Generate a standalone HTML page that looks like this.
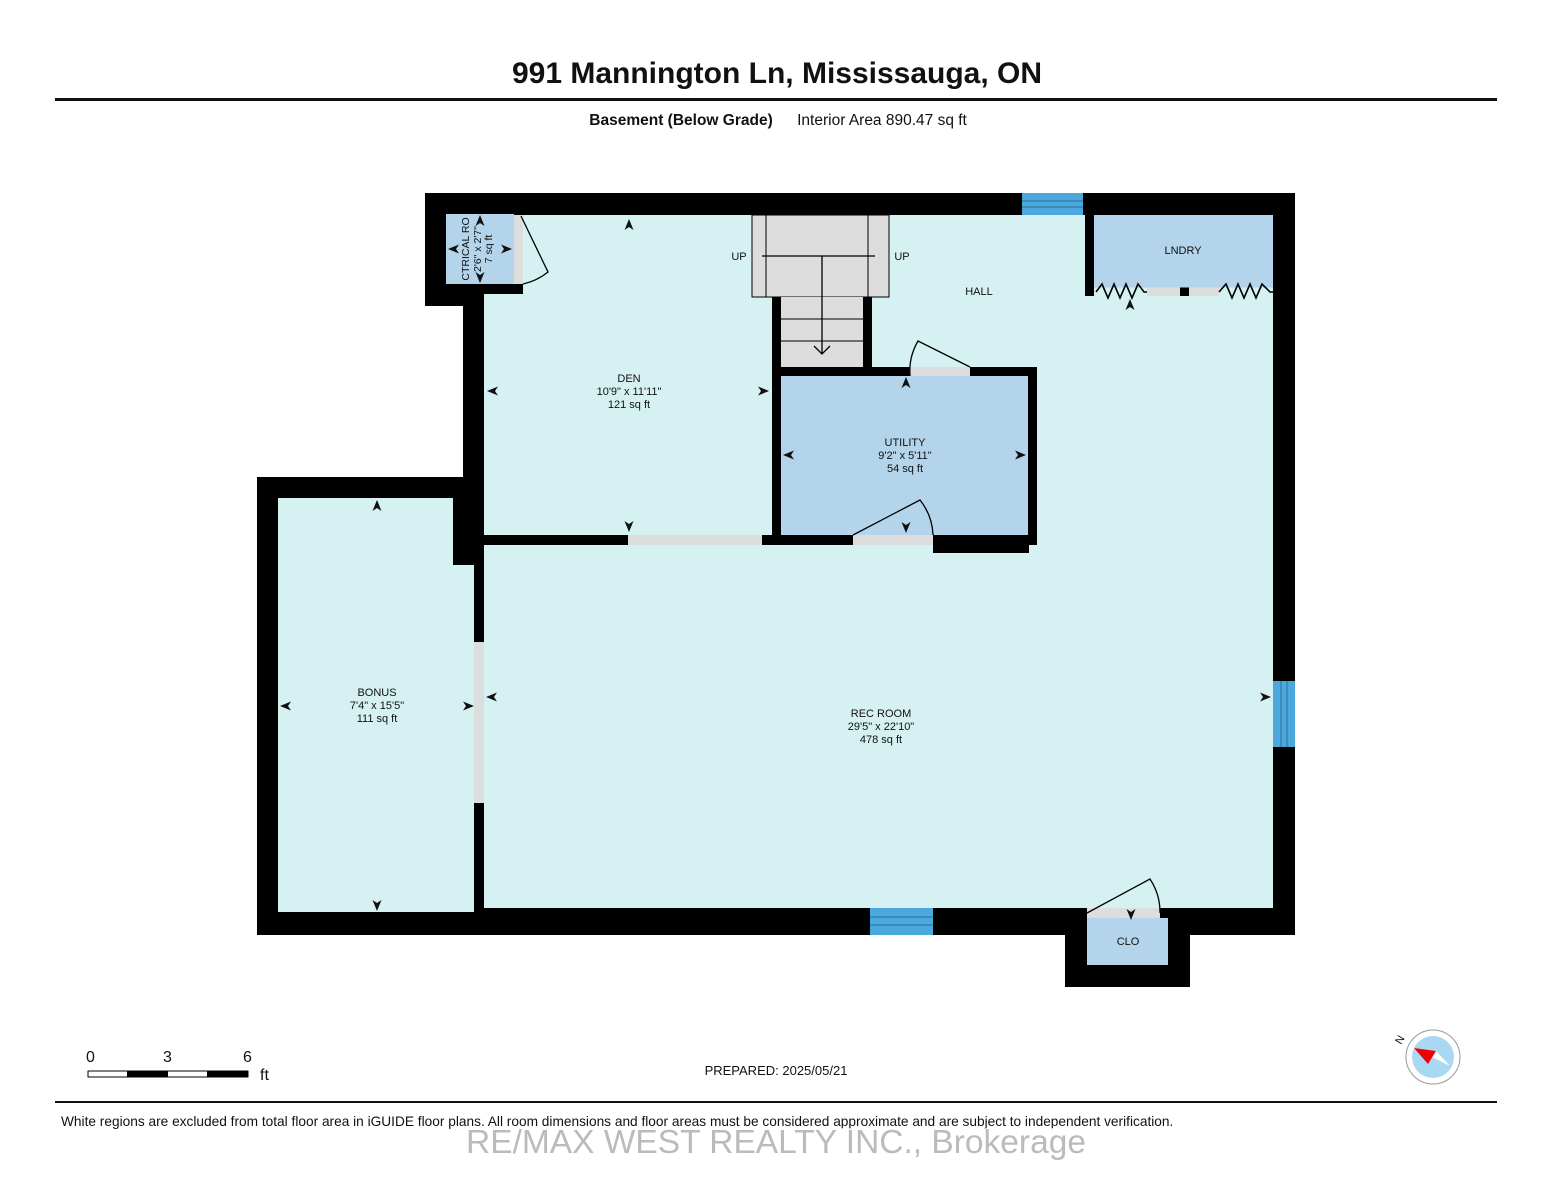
<!DOCTYPE html>
<html><head><meta charset="utf-8"><style>
body{margin:0;background:#fff;width:1552px;height:1200px;overflow:hidden;font-family:"Liberation Sans",Arial,sans-serif}
svg{display:block}
</style></head><body>
<svg width="1552" height="1200" viewBox="0 0 1552 1200" font-family="Liberation Sans, Arial, sans-serif">
<defs>
<path id="au" d="M0 0 L-4.5 11 L0 8 L4.5 11 Z" fill="#111"/>
</defs>
<text x="777" y="83" font-size="30" font-weight="bold" text-anchor="middle" fill="#111">991 Mannington Ln, Mississauga, ON</text>
<rect x="55" y="98" width="1442" height="3" fill="#111"/>
<text x="681" y="125" font-size="15.5" font-weight="bold" text-anchor="middle" fill="#111">Basement (Below Grade)</text>
<text x="882" y="125" font-size="15.5" text-anchor="middle" fill="#111">Interior Area 890.47 sq ft</text>

<polygon points="425,193 1295,193 1295,935 1190,935 1190,987 1065,987 1065,935 257,935 257,477 463,477 463,306 425,306" fill="#000"/>
<rect x="484" y="215" width="789" height="693" fill="#d6f1f1"/>
<rect x="278" y="498" width="196" height="414" fill="#d6f1f1"/>
<!-- electrical room -->
<rect x="446" y="214" width="68" height="70" fill="#b3d4ea"/>
<rect x="514" y="214" width="9" height="70" fill="#ddd"/>
<rect x="484" y="284" width="39" height="10" fill="#000"/>
<rect x="514" y="205" width="9" height="10" fill="#000"/>
<path d="M521 216 L548 272 A60 60 0 0 1 523 284" fill="none" stroke="#000" stroke-width="1.3"/>
<rect x="453" y="477" width="31" height="88" fill="#000"/>
<rect x="474" y="545" width="10" height="367" fill="#000"/>
<rect x="474" y="642" width="10" height="161" fill="#ddd"/>
<rect x="484" y="535" width="288" height="10" fill="#000"/>
<rect x="628" y="535" width="134" height="10" fill="#ddd"/>
<!-- stairs -->
<rect x="752" y="215" width="137" height="82" fill="#ddd" stroke="#000" stroke-width="1"/>
<line x1="766" y1="215" x2="766" y2="297" stroke="#000"/>
<line x1="868" y1="215" x2="868" y2="297" stroke="#000"/>
<rect x="772" y="297" width="100" height="70" fill="#000"/>
<rect x="781" y="297" width="82" height="70" fill="#ddd"/>
<line x1="781" y1="319" x2="863" y2="319" stroke="#000"/>
<line x1="781" y1="341" x2="863" y2="341" stroke="#000"/>
<line x1="762" y1="256" x2="875" y2="256" stroke="#000" stroke-width="1.3"/>
<line x1="822" y1="256" x2="822" y2="354" stroke="#000" stroke-width="1.3"/>
<path d="M814 346 L822 354 L830 346" fill="none" stroke="#000" stroke-width="1.3"/>
<rect x="772" y="297" width="9" height="248" fill="#000"/>
<text x="739" y="260" font-size="11" text-anchor="middle" fill="#111">UP</text>
<text x="902" y="260" font-size="11" text-anchor="middle" fill="#111">UP</text>
<!-- utility -->
<rect x="772" y="367" width="265" height="178" fill="#000"/>
<rect x="781" y="376" width="247" height="159" fill="#b3d4ea"/>
<rect x="910" y="367" width="60" height="9" fill="#ddd"/>
<rect x="853" y="535" width="80" height="10" fill="#ddd"/>
<rect x="933" y="535" width="96" height="18" fill="#000"/>
<path d="M910 376 A60 60 0 0 1 918 341 L970 367" fill="none" stroke="#000" stroke-width="1.3"/>
<path d="M853 535 L920 500 A60 60 0 0 1 933 535" fill="none" stroke="#000" stroke-width="1.3"/>
<!-- laundry -->
<rect x="1085" y="193" width="9" height="103" fill="#000"/>
<rect x="1094" y="215" width="179" height="72" fill="#b3d4ea"/>
<rect x="1094" y="287" width="179" height="9" fill="#d6f1f1"/>
<rect x="1147" y="287" width="33" height="9" fill="#ddd"/>
<rect x="1180" y="287" width="9" height="9" fill="#000"/>
<rect x="1189" y="287" width="30" height="9" fill="#ddd"/>
<line x1="1094" y1="287" x2="1273" y2="287" stroke="#b3d4ea"/>
<polyline points="1096,292 1102,284 1108,298 1114,284 1120,298 1126,284 1132,298 1138,284 1144,292 1147,292" fill="none" stroke="#000" stroke-width="1.6"/>
<polyline points="1219,292 1226,284 1232,298 1238,284 1244,298 1250,284 1256,298 1262,284 1270,292 1273,292" fill="none" stroke="#000" stroke-width="1.6"/>
<!-- windows -->
<rect x="1022" y="193" width="61" height="22" fill="#4aa8dc"/>
<line x1="1022" y1="201" x2="1083" y2="201" stroke="#2a6f9a"/><line x1="1022" y1="207" x2="1083" y2="207" stroke="#2a6f9a"/>
<rect x="1273" y="681" width="22" height="66" fill="#4aa8dc"/>
<line x1="1281" y1="681" x2="1281" y2="747" stroke="#2a6f9a"/><line x1="1287" y1="681" x2="1287" y2="747" stroke="#2a6f9a"/>
<rect x="870" y="908" width="63" height="27" fill="#4aa8dc"/>
<line x1="870" y1="917" x2="933" y2="917" stroke="#2a6f9a"/><line x1="870" y1="925" x2="933" y2="925" stroke="#2a6f9a"/>
<!-- closet -->
<rect x="1087" y="918" width="81" height="47" fill="#b3d4ea"/>
<rect x="1087" y="908" width="73" height="10" fill="#ddd"/>
<path d="M1087 913 L1150 879 A60 60 0 0 1 1160 913" fill="none" stroke="#000" stroke-width="1.3"/>
<g font-size="11" fill="#111" text-anchor="middle">
<text x="629" y="382">DEN</text><text x="629" y="395">10'9" x 11'11"</text><text x="629" y="408">121 sq ft</text>
<text x="905" y="446">UTILITY</text><text x="905" y="459">9'2" x 5'11"</text><text x="905" y="472">54 sq ft</text>
<text x="377" y="696">BONUS</text><text x="377" y="709">7'4" x 15'5"</text><text x="377" y="722">111 sq ft</text>
<text x="881" y="717">REC ROOM</text><text x="881" y="730">29'5" x 22'10"</text><text x="881" y="743">478 sq ft</text>
<text x="979" y="295">HALL</text>
<text x="1183" y="254">LNDRY</text>
<text x="1128" y="945">CLO</text>
<g transform="translate(480,249) rotate(-90)" font-size="10.5"><text x="0" y="-11">CTRICAL RO</text><text x="0" y="1">2'6" x 2'7"</text><text x="0" y="12">7 sq ft</text></g>
</g>
<use href="#au" transform="translate(629,219)"/>
<use href="#au" transform="translate(629,532) rotate(180)"/>
<use href="#au" transform="translate(487,391) rotate(-90)"/>
<use href="#au" transform="translate(769,391) rotate(90)"/>
<use href="#au" transform="translate(906,377)"/>
<use href="#au" transform="translate(906,533) rotate(180)"/>
<use href="#au" transform="translate(783,455) rotate(-90)"/>
<use href="#au" transform="translate(1026,455) rotate(90)"/>
<use href="#au" transform="translate(377,500)"/>
<use href="#au" transform="translate(377,911) rotate(180)"/>
<use href="#au" transform="translate(280,706) rotate(-90)"/>
<use href="#au" transform="translate(474,706) rotate(90)"/>
<use href="#au" transform="translate(486,697) rotate(-90)"/>
<use href="#au" transform="translate(1271,697) rotate(90)"/>
<use href="#au" transform="translate(1130,299)"/>
<use href="#au" transform="translate(1131,920) rotate(180)"/>
<use href="#au" transform="translate(448,249) rotate(-90)"/>
<use href="#au" transform="translate(512,249) rotate(90)"/>
<use href="#au" transform="translate(480,215)"/>
<use href="#au" transform="translate(480,283) rotate(180)"/>
<g font-size="16" fill="#111"><text x="86" y="1062">0</text><text x="163" y="1062">3</text><text x="243" y="1062">6</text><text x="260" y="1080">ft</text></g>
<rect x="88" y="1071" width="160" height="6" fill="#fff" stroke="#000" stroke-width="1"/>
<rect x="127" y="1071" width="41" height="6" fill="#000"/>
<rect x="207" y="1071" width="41" height="6" fill="#000"/>
<text x="776" y="1075" font-size="13" text-anchor="middle" fill="#111">PREPARED: 2025/05/21</text>
<circle cx="1433" cy="1057" r="27" fill="#fff" stroke="#999" stroke-width="1"/>
<circle cx="1433" cy="1057" r="21" fill="#a8d8f2"/>
<polygon points="1414,1048 1436,1051 1450,1066" fill="#fff"/>
<polygon points="1414,1048 1436,1051 1428,1064" fill="#e00"/>
<text x="1401" y="1045" font-size="11" fill="#111" transform="rotate(-60 1401 1045)">N</text>
<rect x="55" y="1101" width="1442" height="2" fill="#111"/>
<text x="61" y="1126" font-size="13.7" fill="#111">White regions are excluded from total floor area in iGUIDE floor plans. All room dimensions and floor areas must be considered approximate and are subject to independent verification.</text>
<rect x="466" y="1128" width="620" height="32" fill="#fff" opacity="0.7"/>
<text x="776" y="1153" font-size="33.5" text-anchor="middle" fill="#bbb">RE/MAX WEST REALTY INC., Brokerage</text>
</svg>
</body></html>
